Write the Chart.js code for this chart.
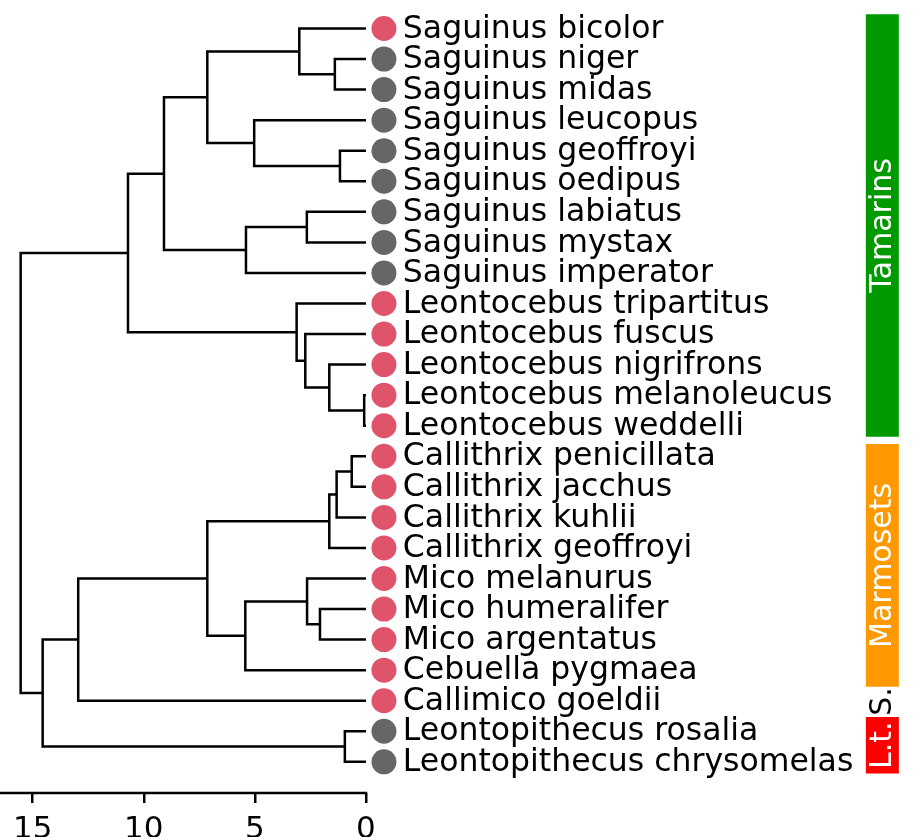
<!DOCTYPE html>
<html><head><meta charset="utf-8">
<script src="https://cdn.jsdelivr.net/npm/chart.js@4"></script>
<style>html,body{margin:0;padding:0;background:#fff}#wrap{width:913px;height:837px}</style>
</head><body><div id="wrap"><canvas id="c" width="913" height="837"></canvas></div>
<script>
// ---- data ----
const tipLabels = [
  'Saguinus bicolor','Saguinus niger','Saguinus midas','Saguinus leucopus','Saguinus geoffroyi',
  'Saguinus oedipus','Saguinus labiatus','Saguinus mystax','Saguinus imperator',
  'Leontocebus tripartitus','Leontocebus fuscus','Leontocebus nigrifrons','Leontocebus melanoleucus',
  'Leontocebus weddelli','Callithrix penicillata','Callithrix jacchus','Callithrix kuhlii',
  'Callithrix geoffroyi','Mico melanurus','Mico humeralifer','Mico argentatus','Cebuella pygmaea',
  'Callimico goeldii','Leontopithecus rosalia','Leontopithecus chrysomelas'
];
const tipTrait = [1,0,0,0,0,0,0,0,0,1,1,1,1,1,1,1,1,1,1,1,1,1,1,0,0];
const traitColors = ['#666666','#DF536B'];
// merges (like a linkage table): ids < 25 are tips, id 25+k is merge k
const mergeLeft   = [1, 0, 4, 3, 26, 6, 30, 29, 12, 11, 10, 9, 32, 14, 38, 39, 19, 18, 42, 40, 44, 23, 45, 37];
const mergeRight  = [2, 25, 5, 27, 28, 7, 8, 31, 13, 33, 34, 35, 36, 15, 16, 17, 20, 41, 21, 43, 22, 24, 46, 47];
const mergeHeight = [1.40, 3.00, 1.17, 5.03, 7.14, 2.66, 5.40, 9.09, 0.08, 1.65, 2.73, 3.12, 10.71,
                     0.64, 1.32, 1.65, 2.07, 2.65, 5.43, 7.14, 12.95, 0.95, 14.55, 15.54];
const tickValues = [0, 5, 10, 15];
const groupNames = ['Tamarins', 'Marmosets', 'S.', 'L.t.'];
const groupFrom  = [-0.47, 13.60, 21.60, 22.53];
const groupTo    = [13.36, 21.54, 22.45, 24.38];

// ---- style / layout constants ----
const FONT = 'DejaVu Sans';
const groupFill = ['#009900', '#FF9900', 'rgba(0,0,0,0)', '#FF0000'];
const groupText = ['#FFFFFF', '#FFFFFF', '#000000', '#FFFFFF'];
const X_MIN = -24.62, X_MAX = 16.47;
const Y_MIN = -0.933, Y_MAX = 25.02;
const TIP_DOT_X = -0.81, TIP_LABEL_X = -1.66, GROUP_X = -23.24;

// ---- build tree geometry ----
const nodeX = tipLabels.map(() => 0);
const nodeY = tipLabels.map((_, i) => i);
mergeHeight.forEach((h, k) => {
  nodeX.push(h);
  nodeY.push((nodeY[mergeLeft[k]] + nodeY[mergeRight[k]]) / 2);
});
const treeSets = mergeHeight.map((h, k) => {
  const a = mergeLeft[k], b = mergeRight[k];
  return {
    type: 'scatter', showLine: true, pointRadius: 0, borderColor: '#000', borderWidth: 2.5,
    borderJoinStyle: 'miter', borderCapStyle: 'butt', tension: 0,
    data: [{x: nodeX[a], y: nodeY[a]}, {x: h, y: nodeY[a]}, {x: h, y: nodeY[b]}, {x: nodeX[b], y: nodeY[b]}]
  };
});
const dotSet = {
  type: 'scatter', showLine: false, pointRadius: 12.5, pointHoverRadius: 12.5, borderWidth: 0,
  backgroundColor: tipTrait.map(t => traitColors[t]),
  data: tipLabels.map((_, i) => ({x: TIP_DOT_X, y: i}))
};
const groupSets = groupNames.map((g, i) => ({
  type: 'scatter', showLine: true, pointRadius: 0, borderWidth: 33, borderCapStyle: 'butt',
  borderColor: groupFill[i],
  data: [{x: GROUP_X, y: groupFrom[i]}, {x: GROUP_X, y: groupTo[i]}]
}));

const textPlugin = {
  id: 'texts',
  afterDatasetsDraw(chart) {
    const ctx = chart.ctx, xs = chart.scales.x, ys = chart.scales.y;
    ctx.save();
    ctx.font = '31.5px "' + FONT + '"';
    ctx.fillStyle = '#000';
    ctx.textAlign = 'left';
    ctx.textBaseline = 'middle';
    tipLabels.forEach((t, i) => ctx.fillText(t, xs.getPixelForValue(TIP_LABEL_X), ys.getPixelForValue(i) + 1));
    ctx.font = '30px "' + FONT + '"';
    ctx.textAlign = 'center';
    groupNames.forEach((g, i) => {
      ctx.save();
      ctx.translate(xs.getPixelForValue(GROUP_X), ys.getPixelForValue((groupFrom[i] + groupTo[i]) / 2));
      ctx.rotate(-Math.PI / 2);
      ctx.fillStyle = groupText[i];
      ctx.fillText(g, 0, 1);
      ctx.restore();
    });
    // x axis spine over the data range
    ctx.strokeStyle = '#000';
    ctx.lineWidth = 2.5;
    ctx.beginPath();
    const yb = chart.chartArea.bottom;
    ctx.moveTo(xs.getPixelForValue(X_MAX), yb);
    ctx.lineTo(xs.getPixelForValue(0) + 1.25, yb);
    ctx.stroke();
    ctx.restore();
  }
};

new Chart(document.getElementById('c'), {
  type: 'scatter',
  data: { datasets: [...treeSets, ...groupSets, dotSet] },
  options: {
    responsive: false, animation: false, devicePixelRatio: 1,
    layout: { padding: 0, autoPadding: false },
    plugins: { legend: { display: false }, tooltip: { enabled: false } },
    scales: {
      x: {
        type: 'linear', min: X_MIN, max: X_MAX, reverse: true,
        border: { display: false },
        grid: { drawOnChartArea: false, drawTicks: true, tickLength: 10, lineWidth: 2.5, color: '#000' },
        ticks: { font: { family: FONT, size: 31 }, color: '#000', padding: 8, maxRotation: 0, autoSkip: false },
        afterBuildTicks: s => { s.ticks = tickValues.map(v => ({ value: v })); },
        afterFit: s => { s.height = 44; }
      },
      y: { type: 'linear', display: false, min: Y_MIN, max: Y_MAX, reverse: true }
    }
  },
  plugins: [textPlugin]
});
</script></body></html>
